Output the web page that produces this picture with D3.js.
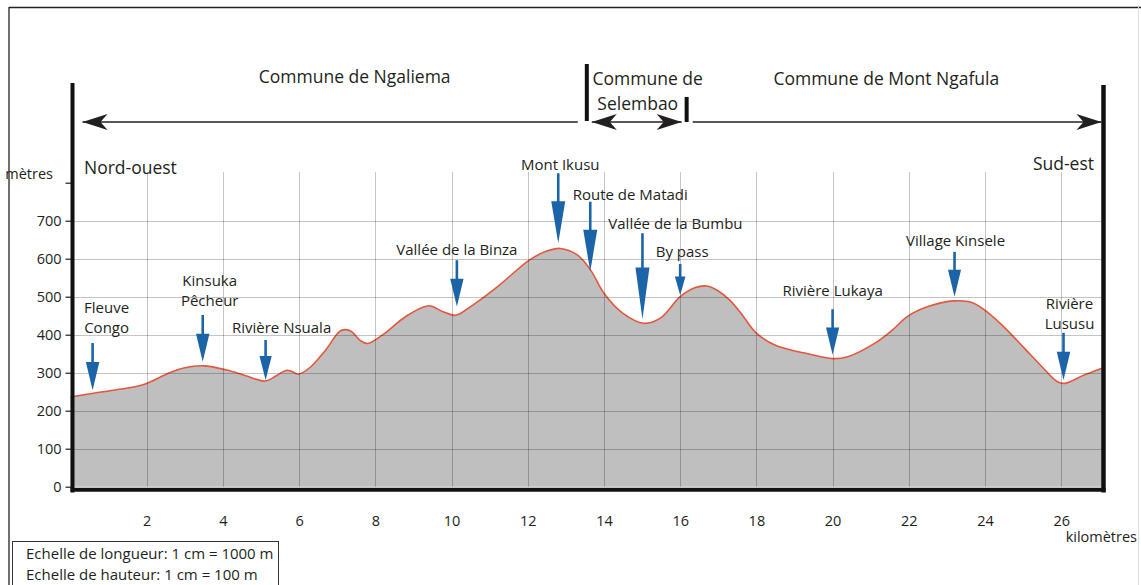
<!DOCTYPE html>
<html><head><meta charset="utf-8">
<script src="https://cdn.jsdelivr.net/npm/d3@7"></script>
<style>
body{margin:0;background:#fff}
svg{display:block}
text{font-family:"Open Sans",sans-serif;fill:#231f20}
</style>
</head><body>
<svg id="c" width="1141" height="585"></svg>
<script>
// ---- data ----
const distanceKm = [0.0,0.6,1.2,1.9,2.6,3.0,3.5,4.1,4.6,5.1,5.4,5.65,5.8,5.98,6.3,6.7,7.1,7.35,7.6,7.8,8.2,8.8,9.4,9.75,10.1,10.5,11.2,12.05,12.5,12.85,13.3,13.65,14.0,14.5,15.05,15.5,16.0,16.4,16.7,17.0,17.3,17.6,18.0,18.5,18.9,19.3,20.0,20.4,21.1,21.6,21.95,22.5,23.2,23.7,24.1,24.5,25.0,25.5,25.9,26.1,26.6,27.07];
const elevationM = [236,246,255,268,300,313,318,307,292,278,292,306,304,296,315,360,411,410,385,377,400,448,476,462,451,474,526,597,620,627,610,570,509,456,430,445,500,524,528,515,491,456,404,372,360,351,337,342,377,415,447,474,489,483,456,420,368,315,276,272,294,312];
const yTicks = [0,100,200,300,400,500,600,700];
const yTopTick = 800;
const xTicks = [2,4,6,8,10,12,14,16,18,20,22,24,26];
const landmarkNames = [["Fleuve","Congo"],["Kinsuka","Pêcheur"],["Rivière Nsuala"],["Vallée de la Binza"],["Mont Ikusu"],["Route de Matadi"],["Vallée de la Bumbu"],["By pass"],["Rivière Lukaya"],["Village Kinsele"],["Rivière","Lususu"]];
const landmarkKm  = [0.58,3.47,5.12,10.14,12.8,13.64,15.01,16.0,20.0,23.2,26.06];
const landmarkTipM = [254,329,281,474,641,566,441,504,347,500,281];
const landmarkTopM = [378,452,386,596,825,750,667,586,467,618,405];
const communeNames = [["Commune de Ngaliema"],["Commune de","Selembao"],["Commune de Mont Ngafula"]];
const communeLimitsKm = [0,13.55,16.17,27.07];
const directionNames = ["Nord-ouest","Sud-est"];
const scaleNotes = ["Echelle de longueur: 1 cm = 1000 m","Echelle de hauteur: 1 cm = 100 m"];

// ---- layout ----
const labelDx = [14,7,16,0,2,40,33,2,0,1,6];
const labelDy = [-16,-15,-13,-11,-9,-8,-10,-13,-19,-12,-10];
const communeDx = [[26],[11,1],[-8]];
const communeY = [[76],[78,103],[78]];

const svg = d3.select("#c");
const x = d3.scaleLinear().domain([0,27.07]).range([70.5,1102]);
const y = d3.scaleLinear().domain([0,800]).range([486.7,182.7]);
const xL = 72.5, xR = 1103.5;

// outer frame
svg.append("line").attr("x1",9).attr("x2",1141).attr("y1",7.5).attr("y2",7.5).attr("stroke","#222").attr("stroke-width",1.3);
svg.append("line").attr("x1",9).attr("x2",9).attr("y1",7).attr("y2",585).attr("stroke","#222").attr("stroke-width",1.3);
svg.append("line").attr("x1",1138.5).attr("x2",1138.5).attr("y1",7).attr("y2",585).attr("stroke","#ddd").attr("stroke-width",1);

// area
const area = d3.area().x((d,i)=>x(distanceKm[i])).y0(y(0)).y1(d=>y(d)).curve(d3.curveCatmullRom.alpha(0.5));
const line = d3.line().x((d,i)=>x(distanceKm[i])).y(d=>y(d)).curve(d3.curveCatmullRom.alpha(0.5));
svg.append("path").datum(elevationM).attr("d",area).attr("fill","#bfbfbf");
svg.append("path").datum(elevationM).attr("d",line).attr("fill","none").attr("stroke","#e4573d").attr("stroke-width",1.6);

// grid
const gcol = "rgba(0,0,0,0.23)";
svg.append("g").selectAll("line").data(yTicks.filter(d=>d>0)).join("line")
  .attr("x1",xL).attr("x2",xR).attr("y1",d=>Math.round(y(d))+0.5).attr("y2",d=>Math.round(y(d))+0.5)
  .attr("stroke",gcol).attr("stroke-width",1);
svg.append("g").selectAll("line").data(xTicks).join("line")
  .attr("x1",d=>Math.round(x(d))+0.5).attr("x2",d=>Math.round(x(d))+0.5).attr("y1",172).attr("y2",y(0))
  .attr("stroke",gcol).attr("stroke-width",1);

// y axis
const yAxis = d3.axisLeft(y).tickValues(yTicks.concat([yTopTick])).tickSize(6).tickPadding(4)
  .tickFormat(d=>d===yTopTick?"":d);
const ga = svg.append("g").attr("transform",`translate(${xL-1},0)`).call(yAxis);
ga.select(".domain").remove();
ga.selectAll(".tick line").attr("stroke","#231f20").attr("stroke-width",1.2);
ga.selectAll(".tick text").attr("font-size",14.5).attr("font-family","Open Sans").attr("fill","#231f20");
svg.append("text").attr("x",53).attr("y",173).attr("text-anchor","end").attr("dominant-baseline","central").attr("font-size",14.5).text("mètres");

// x axis labels
const xAxis = d3.axisBottom(x).tickValues(xTicks).tickSize(0).tickPadding(0);
const gx = svg.append("g").attr("transform",`translate(0,${y(0)})`).call(xAxis);
gx.select(".domain").remove();
gx.selectAll(".tick text").attr("font-size",14.5).attr("font-family","Open Sans").attr("fill","#231f20")
  .attr("y",34).attr("dy",null).attr("dominant-baseline","central");
svg.append("text").attr("x",1137).attr("y",536).attr("text-anchor","end").attr("dominant-baseline","central").attr("font-size",14.5).text("kilomètres");

// thick frame axes
svg.append("line").attr("x1",xL).attr("x2",xL).attr("y1",83).attr("y2",492.5).attr("stroke","#111").attr("stroke-width",4);
svg.append("line").attr("x1",xR).attr("x2",xR).attr("y1",85).attr("y2",492.5).attr("stroke","#111").attr("stroke-width",4.5);
svg.append("line").attr("x1",xL-2).attr("x2",xR+2).attr("y1",y(0)+3).attr("y2",y(0)+3).attr("stroke","#111").attr("stroke-width",4);

// direction labels
svg.append("text").attr("x",84).attr("y",167).attr("dominant-baseline","central").attr("font-size",17.5).text(directionNames[0]);
svg.append("text").attr("x",1094).attr("y",163).attr("text-anchor","end").attr("dominant-baseline","central").attr("font-size",17.5).text(directionNames[1]);

// commune arrows
const arrowY = 122;
function head(px, dir){
  const L=25,H=16,N=18;
  return `M${px},${arrowY} L${px-dir*L},${arrowY-H/2} L${px-dir*N},${arrowY} L${px-dir*L},${arrowY+H/2} Z`;
}
const gc = svg.append("g");
const cx = communeLimitsKm.map(x);
gc.append("line").attr("x1",xL+10).attr("x2",cx[1]-9).attr("y1",arrowY).attr("y2",arrowY).attr("stroke","#231f20").attr("stroke-width",1.5);
gc.append("path").attr("d",head(xL+10,-1)).attr("fill","#231f20");
gc.append("line").attr("x1",cx[1]+5).attr("x2",cx[2]-5).attr("y1",arrowY).attr("y2",arrowY).attr("stroke","#231f20").attr("stroke-width",1.5);
gc.append("path").attr("d",head(cx[1]+5,-1)).attr("fill","#231f20");
gc.append("path").attr("d",head(cx[2]-5,1)).attr("fill","#231f20");
gc.append("line").attr("x1",cx[2]+6).attr("x2",xR-2).attr("y1",arrowY).attr("y2",arrowY).attr("stroke","#231f20").attr("stroke-width",1.5);
gc.append("path").attr("d",head(xR-2,1)).attr("fill","#231f20");
gc.append("line").attr("x1",cx[1]).attr("x2",cx[1]).attr("y1",64).attr("y2",121).attr("stroke","#111").attr("stroke-width",4);
gc.append("line").attr("x1",cx[2]).attr("x2",cx[2]).attr("y1",97).attr("y2",122).attr("stroke","#111").attr("stroke-width",4);
communeNames.forEach((lines,i)=>{
  const mid = (cx[i]+cx[i+1])/2;
  lines.forEach((t,j)=>{
    svg.append("text").attr("x",mid+communeDx[i][j]).attr("y",communeY[i][j]).attr("text-anchor","middle")
      .attr("dominant-baseline","central").attr("font-size",17.5).text(t);
  });
});

// landmark arrows
const blue = "#1b64a8";
const gl = svg.append("g");
landmarkNames.forEach((lines,i)=>{
  const ax = x(landmarkKm[i]), tip = y(landmarkTipM[i]), top = y(landmarkTopM[i]);
  const len = tip-top, hl = 0.6*len, hw = Math.min(14, 0.3*hl+5);
  gl.append("line").attr("x1",ax).attr("x2",ax).attr("y1",top).attr("y2",tip-hl+1).attr("stroke",blue).attr("stroke-width",2.6);
  gl.append("path").attr("d",`M${ax-hw/2},${tip-hl} L${ax+hw/2},${tip-hl} L${ax},${tip} Z`).attr("fill",blue);
  const n = lines.length;
  lines.forEach((t,j)=>{
    gl.append("text").attr("x",ax+labelDx[i]).attr("y",top+labelDy[i]-(n-1-j)*20)
      .attr("text-anchor","middle").attr("dominant-baseline","central").attr("font-size",15).text(t);
  });
});

// scale box
svg.append("rect").attr("x",12.5).attr("y",541.5).attr("width",266).attr("height",60).attr("fill","#fff").attr("stroke","#333").attr("stroke-width",1);
scaleNotes.forEach((t,j)=>{
  svg.append("text").attr("x",26).attr("y",553+j*20.5).attr("dominant-baseline","central").attr("font-size",15).text(t);
});
</script>
</body></html>
